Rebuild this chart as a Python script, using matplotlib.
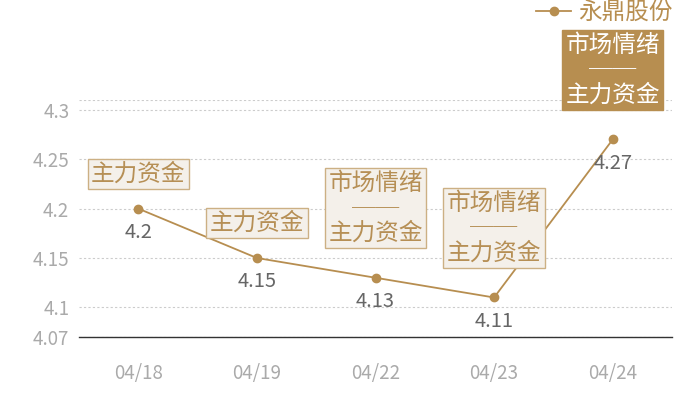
import matplotlib
matplotlib.use("Agg")
import matplotlib.pyplot as plt

plt.rcParams['font.family'] = ['Noto Sans CJK SC', 'DejaVu Sans']

# data
dates = ["04/18", "04/19", "04/22", "04/23", "04/24"]
prices = [4.2, 4.15, 4.13, 4.11, 4.27]
tags = ["主力资金", "主力资金", "市场情绪\n──\n主力资金", "市场情绪\n──\n主力资金", "市场情绪\n──\n主力资金"]
highlight = [False, False, False, False, True]
yticks = [4.07, 4.1, 4.15, 4.2, 4.25, 4.3]
series_name = "永鼎股份"

gold = "#b78e50"
box_fill = "#f4f0ea"
box_edge = "#ccb084"
tag_text = "#b68f55"

fig = plt.figure(figsize=(7, 4), dpi=100)
ax = fig.add_axes([79 / 700, 63 / 400, 593 / 700, 237 / 400])

x = list(range(len(dates)))
ax.plot(x, prices, color=gold, lw=1.3, marker="o", ms=6, zorder=3, label=series_name)

ax.set_xlim(-0.5, len(dates) - 0.5)
ax.set_ylim(4.07, 4.31)
ax.set_yticks(yticks)
ax.set_yticklabels([f"{v:g}" for v in yticks])
ax.set_xticks(x)
ax.set_xticklabels(dates)
ax.tick_params(axis="both", length=0, labelsize=13.5, labelcolor="#aaaaaa")
ax.tick_params(axis="x", pad=19)
ax.tick_params(axis="y", pad=7)

for s in ["top", "left", "right"]:
    ax.spines[s].set_visible(False)
ax.spines["bottom"].set_color("#333333")
ax.spines["bottom"].set_linewidth(1.0)

ax.grid(axis="y", color="#cccccc", linestyle=(0, (2, 2)), lw=0.8)
ax.axhline(ax.get_ylim()[1], color="#cccccc", linestyle=(0, (2, 2)), lw=0.8)
ax.set_axisbelow(True)

for i, (p, t, h) in enumerate(zip(prices, tags, highlight)):
    ax.annotate(f"{p:g}", (i, p), xytext=(0, -17), textcoords="offset points",
                ha="center", va="center", fontsize=14.5, color="#666666", zorder=4)
    off = 50 if "\n" in t else 25
    if h:
        bbox = dict(boxstyle="square,pad=0.15", fc=gold, ec=gold, lw=1)
        col = "white"
    else:
        bbox = dict(boxstyle="square,pad=0.15", fc=box_fill, ec=box_edge, lw=1)
        col = tag_text
    ax.annotate(t, (i, p), xytext=(0, off), textcoords="offset points",
                ha="center", va="center", fontsize=17, color=col,
                linespacing=1.1, bbox=bbox, zorder=5, annotation_clip=False)

leg = fig.legend(loc="upper right", bbox_to_anchor=(674 / 700, 1.0), frameon=False,
                 fontsize=17, handlelength=1.5, handletextpad=0.3, borderaxespad=0.0,
                 borderpad=0.05)
for txt in leg.get_texts():
    txt.set_color(gold)

fig.savefig("out.png", dpi=100)
